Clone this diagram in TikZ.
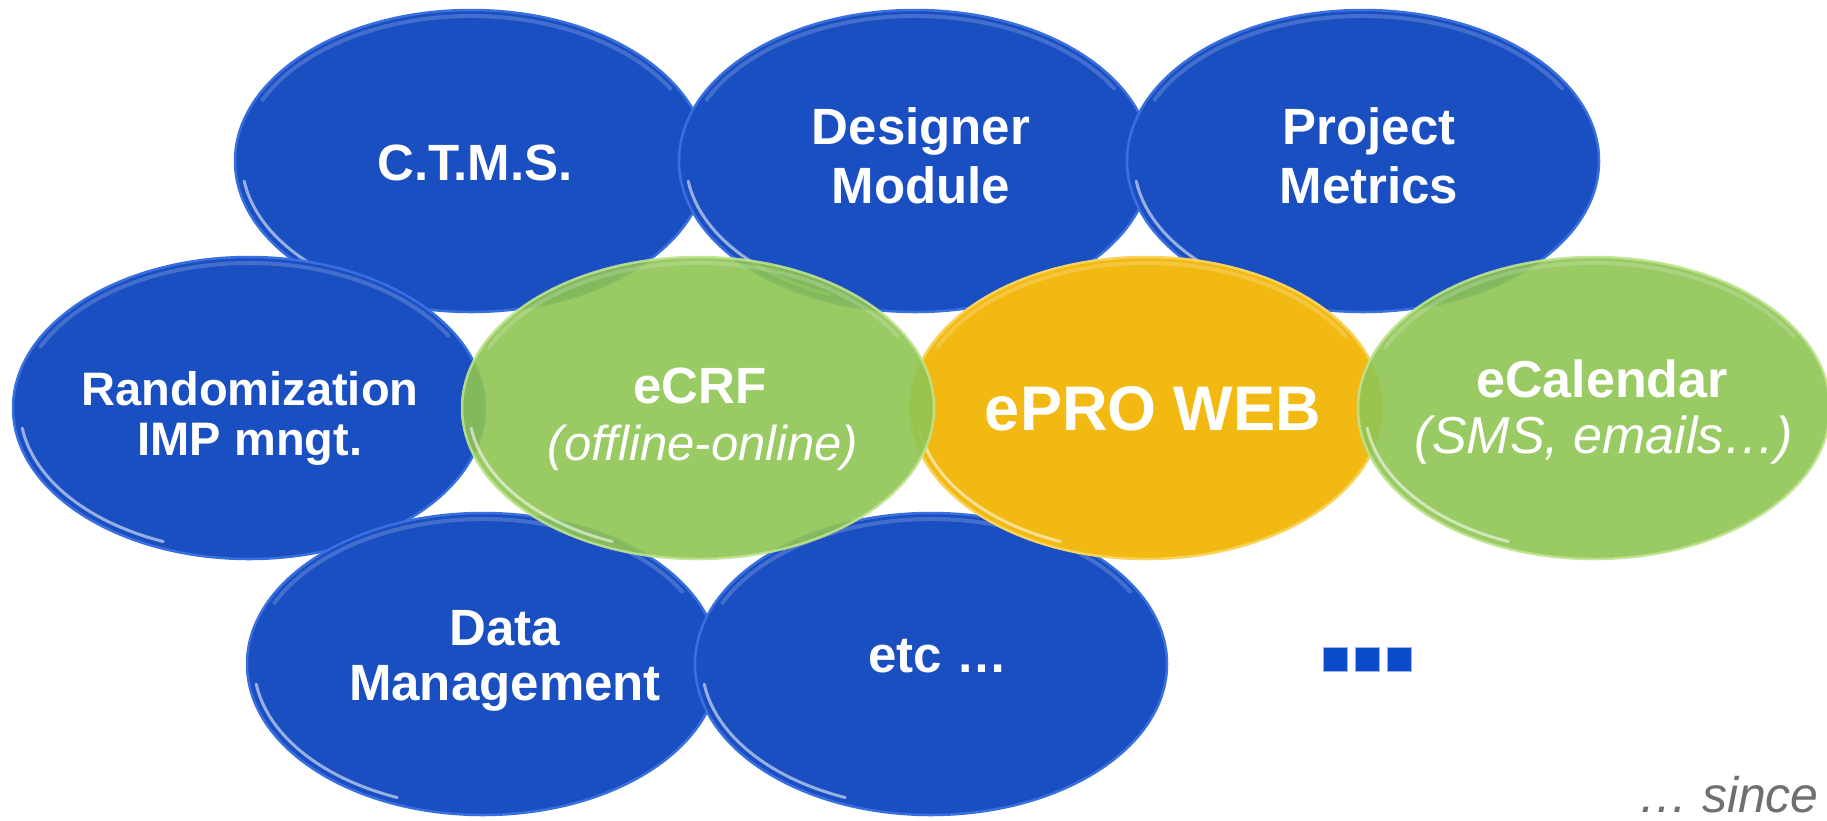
\documentclass[tikz,border=0pt]{standalone}
\usepackage{fontspec}
\setmainfont{Liberation Sans}
\usetikzlibrary{shapes.geometric}
\definecolor{bblue}{HTML}{1A4FC2}
\definecolor{rimblue}{HTML}{3A6FE0}
\definecolor{lgreen}{HTML}{8FC553}
\definecolor{rimgreen}{HTML}{BFE38F}
\definecolor{ygold}{HTML}{F2B913}
\definecolor{rimgold}{HTML}{F8D25A}
\definecolor{sqblue}{HTML}{0B4AC9}
\definecolor{sincegray}{HTML}{6F6F6F}
\newcommand\bubble[4]{%
  \node[#2] (#1) at (#3,#4) {};
  \draw[hlb] (#1.center) ++(112:229 and 144) arc[start angle=112,end angle=172,x radius=229,y radius=144];
  \draw[hlt] (#1.center) ++(205:230 and 145) arc[start angle=205,end angle=330,x radius=230,y radius=145];
}
\begin{document}
\begin{tikzpicture}[x=1pt,y=-1pt,
  bub/.style={ellipse, minimum width=472pt, minimum height=302pt, inner sep=0pt, outer sep=0pt, line width=2.5pt},
  bluebub/.style={bub, fill=bblue, draw=rimblue},
  greenbub/.style={bub, fill=lgreen, fill opacity=0.9, draw=rimgreen, draw opacity=0.9},
  goldbub/.style={bub, fill=ygold, draw=rimgold},
  hlb/.style={white, line width=3pt, opacity=0.55, line cap=round},
  hlt/.style={white, line width=4pt, opacity=0.18, line cap=round},
  lbl/.style={text=white, font=\fontsize{51}{59}\selectfont\bfseries, anchor=base, inner sep=0pt},
  sublbl/.style={text=white, font=\fontsize{51}{59}\selectfont\itshape, anchor=base, inner sep=0pt},
  sq/.style={fill=sqblue, draw=sqblue!40!white, line width=0.8pt, minimum width=24pt, minimum height=24pt, inner sep=0pt}
]
\clip (0,0) rectangle (1827,820);
\fill[white] (0,0) rectangle (1827,820);

% row 1
\bubble{ctms}{bluebub}{471}{161}
\bubble{designer}{bluebub}{915}{161}
\bubble{metrics}{bluebub}{1363}{161}
% row 2 (blue)
\bubble{random}{bluebub}{249}{408}
% row 3
\bubble{datamgmt}{bluebub}{483}{664}
\bubble{etc}{bluebub}{931}{664}
% highlighted modules
\bubble{epro}{goldbub}{1146}{408}
\bubble{ecrf}{greenbub}{698}{408}
\bubble{ecal}{greenbub}{1594}{408}

% labels
\node[lbl] (t-ctms) at (475,180) {C.T.M.S.};
\node[lbl] (t-des1) at (921,144) {Designer};
\node[lbl] (t-des2) at (921,203) {Module};
\node[lbl] (t-met1) at (1369,144) {Project};
\node[lbl] (t-met2) at (1369,203) {Metrics};
\node[lbl, font=\fontsize{47}{54}\selectfont\bfseries] (t-ran1) at (250,405) {Randomization};
\node[lbl, font=\fontsize{47}{54}\selectfont\bfseries] (t-ran2) at (250,455) {IMP mngt.};
\node[lbl] (t-ecrf1) at (700,403) {eCRF};
\node[sublbl, font=\fontsize{49}{57}\selectfont\itshape] (t-ecrf2) at (703,460) {(offline-online)};
\node[lbl, font=\fontsize{63}{70}\selectfont\bfseries] (t-epro) at (1153,430) {ePRO WEB};
\node[lbl, font=\fontsize{52}{60}\selectfont\bfseries] (t-ecal1) at (1602,397) {eCalendar};
\node[sublbl, font=\fontsize{52}{60}\selectfont\itshape] (t-ecal2) at (1604,453) {(SMS, emails…)};
\node[lbl] (t-dm1) at (505,645) {Data};
\node[lbl] (t-dm2) at (505,700) {Management};
\node[lbl] (t-etc) at (938,672) {etc …};

% the three squares
\node[sq] (sq1) at (1335.5,659.5) {};
\node[sq] (sq2) at (1367.5,659.5) {};
\node[sq] (sq3) at (1399.5,659.5) {};

% since
\node[text=sincegray, font=\fontsize{50}{58}\selectfont\itshape, anchor=base east, inner sep=0pt] (since) at (1819,812) {… since};
\end{tikzpicture}
\end{document}
